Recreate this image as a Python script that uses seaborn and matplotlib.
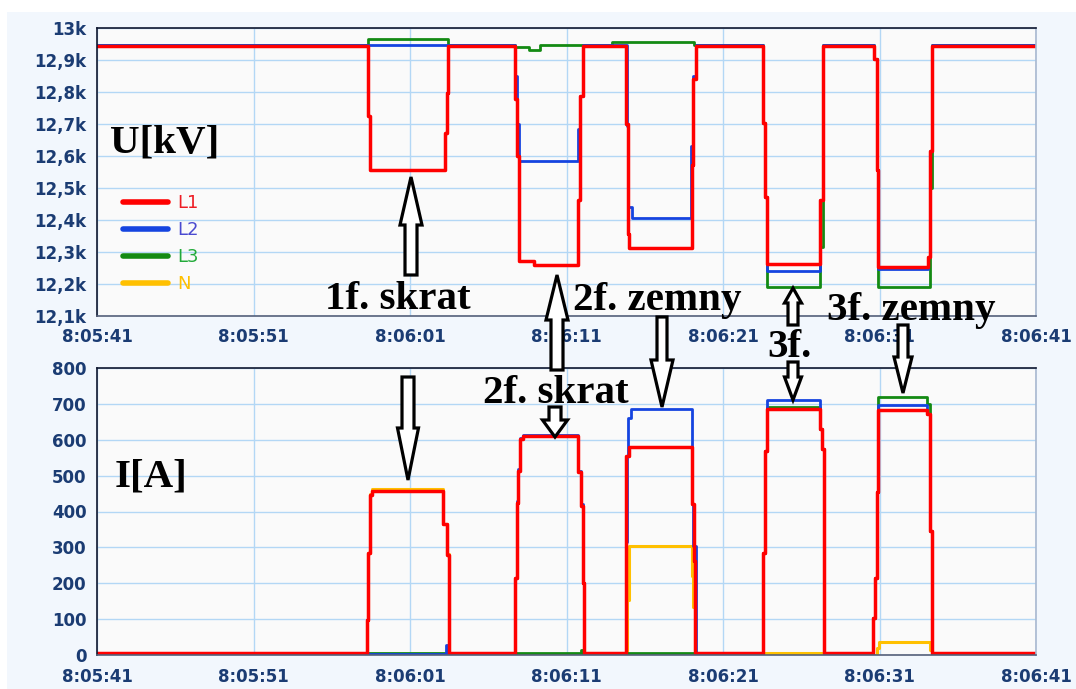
import matplotlib
matplotlib.use("Agg")
import matplotlib.pyplot as plt
import seaborn as sns
from matplotlib.patches import Polygon, Rectangle
from matplotlib.lines import Line2D

# time axis: seconds after 8:05:41
x_ticks = [0, 10, 20, 30, 40, 50, 60]
x_labels = ["8:05:41", "8:05:51", "8:06:01", "8:06:11", "8:06:21", "8:06:31", "8:06:41"]

u_ticks = [12100, 12200, 12300, 12400, 12500, 12600, 12700, 12800, 12900, 13000]
u_labels = ["12,1k", "12,2k", "12,3k", "12,4k", "12,5k", "12,6k", "12,7k", "12,8k", "12,9k", "13k"]
i_ticks = [0, 100, 200, 300, 400, 500, 600, 700, 800]

# voltage, step points (s, V)
u_l1_t = [0, 17.34, 17.44, 22.24, 22.34, 22.45, 26.71, 26.81, 26.98, 27.9, 30.76, 30.86, 31.03,
          33.78, 33.91, 34.01, 38.0, 38.1, 38.27, 42.58, 42.68, 42.83, 46.2, 46.41,
          49.65, 49.82, 49.92, 53.12, 53.23, 53.34, 60]
u_l1_v = [12945, 12725, 12557, 12672, 12798, 12945, 12777, 12599, 12273, 12258, 12462, 12788, 12945,
          12699, 12357, 12313, 12573, 12840, 12945, 12704, 12473, 12263, 12462, 12945,
          12903, 12557, 12253, 12284, 12615, 12945, 12945]

u_l2_t = [0, 26.71, 26.81, 26.98, 30.76, 30.86, 31.03, 33.84, 33.91, 34.2, 37.96, 38.1, 38.27,
          42.58, 42.68, 42.83, 46.2, 46.41, 49.65, 49.82, 49.92, 53.12, 53.23, 53.34, 60]
u_l2_v = [12947, 12851, 12700, 12585, 12683, 12788, 12947, 12693, 12441, 12405, 12630, 12851, 12947,
          12704, 12473, 12242, 12462, 12947, 12903, 12557, 12247, 12284, 12615, 12947, 12947]

u_l3_t = [0, 17.32, 22.45, 26.71, 27.6, 28.3, 32.9, 38.15, 42.58, 42.68, 42.83, 46.2, 46.41,
          49.65, 49.82, 49.92, 53.23, 53.34, 60]
u_l3_v = [12946, 12966, 12946, 12940, 12932, 12947, 12957, 12946, 12704, 12473, 12192, 12315, 12946,
          12903, 12557, 12190, 12500, 12946, 12946]

# current, step points (s, A)
i_l1_t = [0, 17.25, 17.34, 17.44, 17.57, 22.13, 22.39, 22.47, 26.71, 26.81, 26.92, 27.03, 27.24,
          30.76, 30.91, 31.03, 31.12, 33.8, 34.0, 38.0, 38.16, 38.21, 42.58, 42.68, 42.79,
          46.2, 46.35, 46.45, 49.6, 49.7, 49.82, 49.92, 53.05, 53.2, 53.35, 60]
i_l1_v = [5, 97, 284, 446, 457, 364, 280, 5, 215, 425, 514, 602, 611,
          509, 416, 200, 5, 555, 581, 420, 261, 5, 285, 570, 686,
          630, 574, 5, 103, 215, 453, 682, 672, 345, 5, 5]

i_l2_t = [0, 22.3, 22.45, 26.71, 26.81, 26.92, 27.03, 27.24, 30.76, 30.91, 31.03, 31.12,
          33.78, 33.85, 33.95, 34.1, 38.0, 38.1, 38.25, 42.58, 42.68, 42.79, 46.2, 46.35, 46.45,
          49.6, 49.7, 49.82, 49.92, 53.05, 53.2, 53.35, 60]
i_l2_v = [2, 28, 2, 215, 430, 518, 606, 614, 512, 420, 200, 2,
          315, 555, 660, 686, 420, 303, 2, 285, 570, 710, 630, 574, 2,
          103, 215, 453, 697, 672, 345, 2, 2]

i_l3_t = [0, 17.3, 22.45, 26.8, 30.9, 31.05, 33.85, 38.2, 42.58, 42.68, 42.79, 46.2, 46.35, 46.45,
          49.6, 49.7, 49.82, 49.92, 53.05, 53.2, 53.35, 60]
i_l3_v = [2, 6, 2, 5, 14, 2, 5, 2, 285, 570, 690, 630, 574, 2,
          103, 215, 453, 719, 700, 345, 2, 2]

i_n_t = [0, 17.25, 17.34, 17.44, 17.57, 22.13, 22.39, 22.47, 33.84, 34.01, 38.0, 38.1, 38.2,
         42.7, 46.4, 49.82, 49.95, 53.2, 53.35, 60]
i_n_v = [0, 97, 284, 450, 463, 366, 282, 0, 154, 303, 219, 135, 0,
         6, 0, 20, 35, 15, 0, 0]

names = ["L1", "L2", "L3", "N"]
line_cols = {"L1": "#ff0000", "L2": "#1544e0", "L3": "#138a13", "N": "#ffc000"}
text_cols = {"L1": "#ee1c24", "L2": "#4a4ad0", "L3": "#22aa3a", "N": "#ffc000"}

sns.set_style("white")
plt.rcParams["font.family"] = ["DejaVu Sans"]

W, H = 1076, 689
fig = plt.figure(figsize=(W / 100, H / 100), dpi=100, facecolor="white")
fig.patches.append(Rectangle((7 / W, 0), 1, 1 - 12 / H, transform=fig.transFigure,
                             facecolor="#f2f7fd", edgecolor="none", zorder=-10))

ax_u = fig.add_axes([97 / W, 1 - 316 / H, 939 / W, 288 / H])
ax_i = fig.add_axes([97 / W, 1 - 655 / H, 939 / W, 287 / H])

navy = "#1b3c73"
for ax in (ax_u, ax_i):
    ax.set_facecolor("#fafafa")
    ax.grid(True, color="#b3d7f5", lw=1)
    ax.set_axisbelow(True)
    ax.set_xlim(0, 60)
    ax.set_xticks(x_ticks)
    ax.tick_params(axis="both", direction="out", length=5, width=1.3, color=navy,
                   labelcolor=navy, labelsize=12, pad=2.5)
    ax.tick_params(axis="x", pad=4)
    ax.spines["top"].set_color("#101830")
    ax.spines["left"].set_color("#101830")
    ax.spines["bottom"].set_color("#55607a")
    ax.spines["right"].set_color("#a8b8d0")
    for s in ax.spines.values():
        s.set_linewidth(1.2)

# voltage
sns.lineplot(x=u_l3_t, y=u_l3_v, ax=ax_u, color=line_cols["L3"], lw=2.0, drawstyle="steps-post", sort=False, estimator=None)
sns.lineplot(x=u_l2_t, y=u_l2_v, ax=ax_u, color=line_cols["L2"], lw=2.0, drawstyle="steps-post", sort=False, estimator=None)
sns.lineplot(x=u_l1_t, y=u_l1_v, ax=ax_u, color=line_cols["L1"], lw=2.5, drawstyle="steps-post", sort=False, estimator=None)
ax_u.set_ylim(12100, 13000)
ax_u.set_yticks(u_ticks)
ax_u.set_yticklabels(u_labels, fontweight="bold")

# current
sns.lineplot(x=i_n_t, y=i_n_v, ax=ax_i, color=line_cols["N"], lw=2.2, drawstyle="steps-post", sort=False, estimator=None)
sns.lineplot(x=i_l3_t, y=i_l3_v, ax=ax_i, color=line_cols["L3"], lw=2.0, drawstyle="steps-post", sort=False, estimator=None)
sns.lineplot(x=i_l2_t, y=i_l2_v, ax=ax_i, color=line_cols["L2"], lw=2.0, drawstyle="steps-post", sort=False, estimator=None)
sns.lineplot(x=i_l1_t, y=i_l1_v, ax=ax_i, color=line_cols["L1"], lw=2.5, drawstyle="steps-post", sort=False, estimator=None)
ax_i.set_ylim(0, 800)
ax_i.set_yticks(i_ticks)
ax_i.set_yticklabels([str(v) for v in i_ticks], fontweight="bold")

for ax in (ax_u, ax_i):
    ax.set_xticklabels(x_labels, fontweight="bold")
    ax.set_xlabel("")
    ax.set_ylabel("")

handles = [Line2D([], [], color=line_cols[n], lw=4) for n in names]
leg = ax_u.legend(handles, names, loc="upper left", bbox_to_anchor=(0.01, 0.48), frameon=False,
                  fontsize=13, handlelength=2.5, handletextpad=0.5, labelspacing=0.5)
for t, n in zip(leg.get_texts(), names):
    t.set_color(text_cols[n])

# overlay in pixel coordinates for the annotations
ov = fig.add_axes([0, 0, 1, 1], zorder=10)
ov.set_xlim(0, W)
ov.set_ylim(H, 0)
ov.axis("off")
ov.patch.set_alpha(0)


def block_arrow(x, y_tail, y_tip, shaft, head, head_len):
    d = 1 if y_tip > y_tail else -1
    yb = y_tip - d * head_len
    pts = [(x - shaft / 2, y_tail), (x - shaft / 2, yb), (x - head / 2, yb), (x, y_tip),
           (x + head / 2, yb), (x + shaft / 2, yb), (x + shaft / 2, y_tail)]
    ov.add_patch(Polygon(pts, closed=True, facecolor="white", edgecolor="black",
                         lw=2.3, joinstyle="miter"))


block_arrow(411, 275, 177, 12, 22, 48)
block_arrow(408, 377, 480, 12, 21, 52)
block_arrow(557, 370, 275, 12, 22, 45)
block_arrow(555, 407, 437, 12, 25, 17)
block_arrow(662, 317, 407, 10, 22, 47)
block_arrow(793, 325, 288, 10, 17, 15)
block_arrow(793, 362, 400, 10, 17, 23)
block_arrow(903, 325, 393, 10, 18, 36)

serif = dict(family="Liberation Serif", fontsize=29.5, fontweight="bold", color="black",
             va="baseline", ha="left")
ov.text(110, 152, "U[kV]", **serif)
ov.text(115, 487, "I[A]", **serif)
ov.text(325, 309, "1f. skrat", **serif)
ov.text(573, 310, "2f. zemny", **serif)
ov.text(483, 403, "2f. skrat", **serif)
ov.text(767, 357, "3f.", **serif)
ov.text(827, 320, "3f. zemny", **serif)

fig.savefig("out.png", dpi=100, facecolor=fig.get_facecolor())
